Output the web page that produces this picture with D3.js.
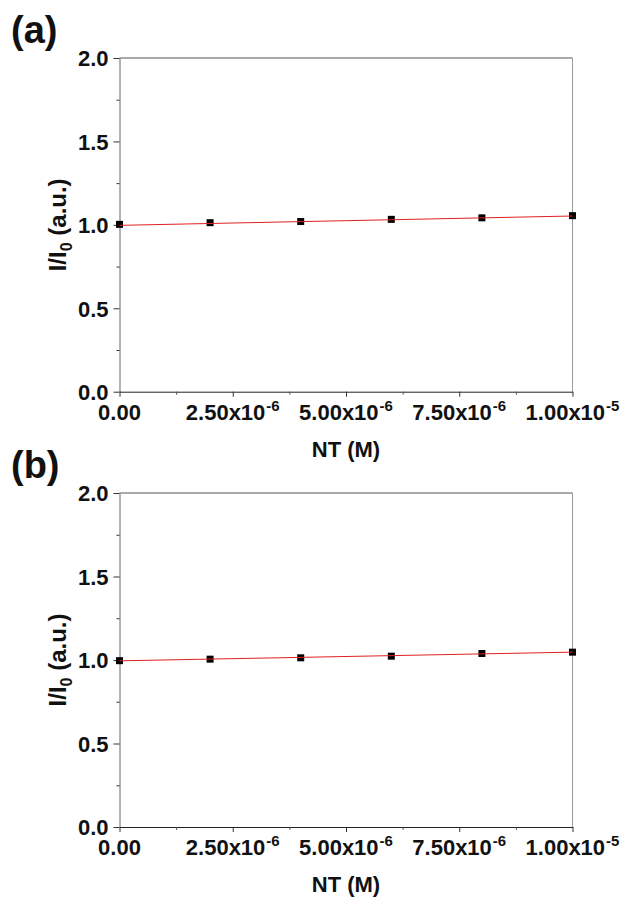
<!DOCTYPE html>
<html>
<head>
<meta charset="utf-8">
<script src="https://cdnjs.cloudflare.com/ajax/libs/d3/7.8.5/d3.min.js"></script>
<style>
  body { margin: 0; background: #fff; }
  svg { display: block; font-family: "Liberation Sans", Arial, sans-serif; font-weight: bold; }
</style>
</head>
<body>
<div id="chart"></div>
<script>
(function(d3){

    // concentracoes de NT (M)
    var concentrations = [0, 2e-6, 4e-6, 6e-6, 8e-6, 1e-5];
    var ratioA = [1.003, 1.013, 1.020, 1.033, 1.042, 1.055];
    var ratioB = [0.996, 1.005, 1.013, 1.023, 1.039, 1.047];
    // ajuste linear: valores em x = 0 e x = 1e-5
    var fitX = [0, 1e-5];
    var fitA = [0.997, 1.053];
    var fitB = [0.995, 1.047];
    // ticks
    var xMajor = [0, 2.5e-6, 5e-6, 7.5e-6, 1e-5];
    var xMinor = [1.25e-6, 3.75e-6, 6.25e-6, 8.75e-6];
    var xMant = ["0.00", "2.50x10", "5.00x10", "7.50x10", "1.00x10"];
    var xExp = ["", "-6", "-6", "-6", "-5"];
    var yMajor = [0, 0.5, 1.0, 1.5, 2.0];
    var yMinor = [0.25, 0.75, 1.25, 1.75];
    var panelLabels = ["(a)", "(b)"];

    var W = 626, H = 899;
    var left = 119.5, right = 572.5;

    var svg = d3.select("#chart").append("svg")
            .attr("width", W)
            .attr("height", H);

    drawPanel(panelLabels[0], ratioA, fitA, 58, 391.7);
    drawPanel(panelLabels[1], ratioB, fitB, 493, 827);

    function drawPanel(label, values, fit, top, bottom){

        var x = d3.scaleLinear().domain([0, 1e-5]).range([left, right]);
        var y = d3.scaleLinear().domain([0, 2]).range([bottom, top]);

        var g = svg.append("g");

        // moldura (topo e direita)
        g.append("line").attr("x1", left).attr("x2", right).attr("y1", top).attr("y2", top)
                .attr("stroke", "#555").attr("stroke-width", 1);
        g.append("line").attr("x1", right).attr("x2", right).attr("y1", top).attr("y2", bottom)
                .attr("stroke", "#999").attr("stroke-width", 1);

        // eixo y
        var yAx = g.append("g").attr("transform", "translate(" + left + ",0)")
                .call(d3.axisLeft(y).tickValues(yMajor).tickSize(6).tickSizeOuter(0)
                        .tickFormat(d3.format(".1f")));
        yAx.select(".domain").attr("stroke", "#666");
        yAx.selectAll(".tick line").attr("stroke", "#333");
        yAx.selectAll(".tick text")
                .attr("x", -11)
                .attr("dy", "0.36em")
                .style("font-size", "22px")
                .style("font-family", "Liberation Sans, Arial, sans-serif")
                .style("font-weight", "bold")
                .attr("fill", "#111");
        g.append("g").attr("transform", "translate(" + left + ",0)")
                .call(d3.axisLeft(y).tickValues(yMinor).tickSize(3).tickFormat(""))
                .call(function(s){ s.select(".domain").remove(); s.selectAll("line").attr("stroke", "#333"); });

        // eixo x
        var xAx = g.append("g").attr("transform", "translate(0," + bottom + ")")
                .call(d3.axisBottom(x).tickValues(xMajor).tickSize(5).tickSizeOuter(0).tickFormat(""));
        xAx.select(".domain").attr("stroke", "#222");
        xAx.selectAll(".tick line").attr("stroke", "#333");
        g.append("g").attr("transform", "translate(0," + bottom + ")")
                .call(d3.axisBottom(x).tickValues(xMinor).tickSize(3).tickFormat(""))
                .call(function(s){ s.select(".domain").remove(); s.selectAll("line").attr("stroke", "#555"); });

        var lbl = g.selectAll(".xlbl").data(xMajor).enter().append("text")
                .attr("class", "xlbl")
                .attr("x", function(d){ return x(d); })
                .attr("y", bottom + 28)
                .attr("text-anchor", "middle")
                .attr("fill", "#111")
                .style("font-size", "22px");
        lbl.append("tspan").text(function(d, i){ return xMant[i]; });
        lbl.append("tspan")
                .attr("dy", -9)
                .attr("dx", 1)
                .style("font-size", "15px")
                .text(function(d, i){ return xExp[i]; });

        // titulos
        g.append("text")
                .attr("x", (left + right) / 2)
                .attr("y", bottom + 65)
                .attr("text-anchor", "middle")
                .attr("fill", "#111")
                .style("font-size", "22px")
                .text("NT (M)");

        var yt = g.append("text")
                .attr("transform", "translate(" + 66 + "," + y(1) + ") rotate(-90)")
                .attr("text-anchor", "middle")
                .attr("fill", "#111")
                .style("font-size", "24px");
        yt.append("tspan").text("I/I");
        yt.append("tspan").attr("dy", 6).style("font-size", "16px").text("0");
        yt.append("tspan").attr("dy", -6).text(" (a.u.)");

        g.append("text")
                .attr("x", 11)
                .attr("y", top - 15)
                .attr("fill", "#111")
                .style("font-size", "38px")
                .text(label);

        // pontos
        g.selectAll(".pt").data(values).enter().append("rect")
                .attr("class", "pt")
                .attr("x", function(d, i){ return x(concentrations[i]) - 3.5; })
                .attr("y", function(d){ return y(d) - 3.5; })
                .attr("width", 7)
                .attr("height", 7)
                .attr("fill", "#000");

        // ajuste
        var line = d3.line()
                .x(function(d, i){ return x(fitX[i]); })
                .y(function(d){ return y(d); });
        g.append("path")
                .datum(fit)
                .attr("d", line)
                .attr("fill", "none")
                .attr("stroke", "#e02020")
                .attr("stroke-width", 1);
    }

})(d3);
</script>
</body>
</html>
